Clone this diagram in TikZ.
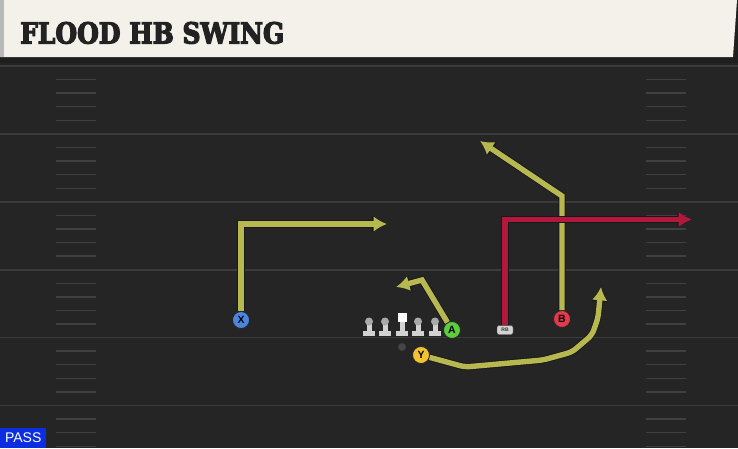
\documentclass[tikz,border=0pt]{standalone}
\usepackage{fontspec}
\setmainfont{Liberation Sans}
\newfontfamily\titlefont[FakeStretch=0.86, FakeBold=4]{DejaVu Serif}
\usetikzlibrary{arrows.meta}

\definecolor{fieldbg}{HTML}{252525}
\definecolor{headerbg}{HTML}{F3F1EA}
\definecolor{titleblack}{HTML}{222222}
\definecolor{linegray}{HTML}{3B3B3B}
\definecolor{hashgray}{HTML}{404040}
\definecolor{routeyel}{HTML}{B8B850}
\definecolor{routered}{HTML}{B3173C}
\definecolor{xblue}{HTML}{4A86E0}
\definecolor{agreen}{HTML}{5CCB3E}
\definecolor{yyellow}{HTML}{F2C331}
\definecolor{bred}{HTML}{E3394A}
\definecolor{passblue}{HTML}{0A2EE0}
\definecolor{olgray}{HTML}{D2D2D2}
\definecolor{headgray}{HTML}{A9A9A9}

\tikzset{
  yardline/.style={draw=linegray, line width=1.6pt},
  hashmark/.style={draw=hashgray, line width=1.4pt},
  player/.style={circle, draw=black!85, line width=0.8pt, fill=#1,
    inner sep=0pt, minimum size=17pt, font=\bfseries\fontsize{10.5}{10.5}\selectfont},
  route/.style={draw=routeyel, line width=5.4pt,
    -{Latex[length=9pt 0.8, width=10pt 1]},
    preaction={draw=black!90, line width=7.2pt}},
  redroute/.style={route, draw=routered},
  rbtag/.style={rounded corners=2pt, fill=olgray, draw=black!70, inner sep=0pt,
    minimum width=16pt, minimum height=9pt, text=black!80,
    font=\bfseries\fontsize{5}{5}\selectfont},
}

\begin{document}
\begin{tikzpicture}[x=1pt, y=-1pt]
	\useasboundingbox (0,0) rectangle (738,448);
	
	% field
	\fill[fieldbg] (0,0) rectangle (738,448);
	
	% yard lines
	\def\ly{66} % first yard line
	\def\gap{67.9} % 5 yards
	\foreach \i in {0,...,5} {
		\draw[yardline] (0,\ly+\i*\gap) -- (738,\ly+\i*\gap);
		% hash marks
		\foreach \k in {1,...,4} {
			\draw[hashmark] (56,\ly+\i*\gap+\k*\gap/5) -- (96,\ly+\i*\gap+\k*\gap/5);
			\draw[hashmark] (646,\ly+\i*\gap+\k*\gap/5) -- (686,\ly+\i*\gap+\k*\gap/5);
		}
	}
	
	% header
	\fill[black!88] (0,0) rectangle (738,63);
	\fill[headerbg] (0,0) -- (737,0) -- (733,57) -- (0,57) -- cycle;
	\fill[gray!55] (0,0) rectangle (4,57);
	\node[anchor=base west, inner sep=0pt, text=titleblack,
	font=\titlefont\bfseries\fontsize{29}{29}\selectfont] (title) at (20,43.5) {FLOOD HB SWING};
	
	% offensive line
	\foreach \lx in {369,385,418,435} {
		\fill[olgray] (\lx-6,336) rectangle (\lx+6,331);
		\fill[olgray] (\lx-2.5,331) rectangle (\lx+2.5,322);
		\fill[headgray] (\lx,321.5) circle (4pt);
	}
	% center
	\fill[olgray] (396,336) rectangle (408,331);
	\fill[olgray] (399.5,331) rectangle (404.5,322);
	\fill[white] (397.5,313) rectangle (406.5,322);
	
	% ball
	\fill[gray!55!black, draw=black!80] (402,347) circle (4pt);
	
	% players
	\node[player=xblue] (X) at (241,320) {X};
	\node[player=agreen] (A) at (452,330) {A};
	\node[player=yyellow] (Y) at (421,355) {Y};
	\node[player=bred] (B) at (562,319) {B};
	\node[rbtag] (RB) at (505,330) {RB};
	
	% route corners and ends
	\coordinate (Xcut) at (241,224);
	\coordinate (Xend) at (387,224);
	\coordinate (Acut) at (422,280);
	\coordinate (Aend) at (396,287);
	\coordinate (Bcut) at (562,196);
	\coordinate (Bend) at (480,141);
	\coordinate (RBcut) at (505,219.5);
	\coordinate (RBend) at (692,219.5);
	\coordinate (Yend) at (601,287);
	
	% routes
	\draw[route] (X) -- (Xcut) -- (Xend);
	\draw[route] (A) -- (Acut) -- (Aend);
	\draw[route] (B) -- (Bcut) -- (Bend);
	\draw[redroute] (RB) -- (RBcut) -- (RBend);
	\draw[route, rounded corners=5pt] (Y) -- (465,367) -- (543,360) -- (572,352)
	-- (592,335) -- (598,318) -- (Yend);
	
	% play type
	\node[fill=passblue, text=white, anchor=south west, inner sep=0pt,
	minimum width=46pt, minimum height=20pt, font=\fontsize{14}{14}\selectfont] (pass) at (0,448) {PASS};
\end{tikzpicture}
\end{document}
